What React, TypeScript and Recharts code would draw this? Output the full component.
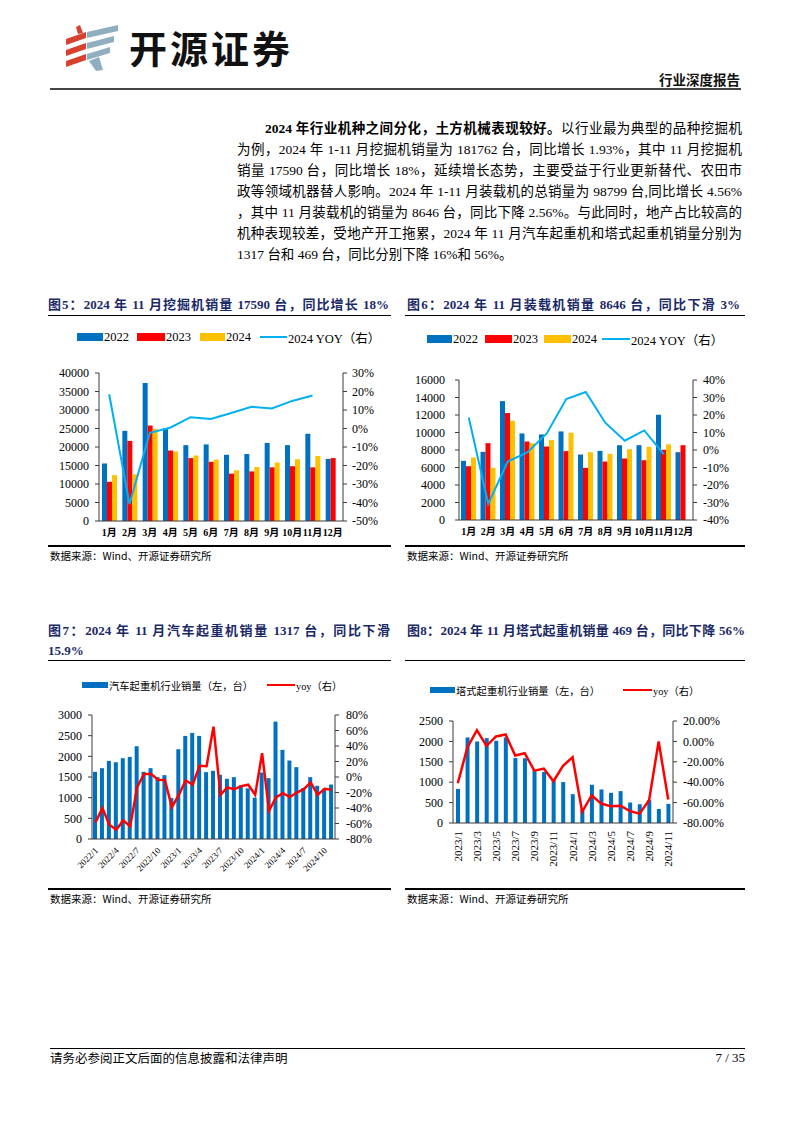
import React from 'react';
import { ComposedChart, Bar, Line, XAxis, YAxis } from 'recharts';

// ---------- DATA ----------
const months = ['1月', '2月', '3月', '4月', '5月', '6月', '7月', '8月', '9月', '10月', '11月', '12月'];

// 图5 挖掘机
const exc2022 = [15550, 24360, 37300, 25000, 20500, 20700, 17900, 18100, 21100, 20500, 23600, 16800];
const exc2023 = [10600, 21650, 25800, 19050, 17000, 16000, 12800, 13400, 14500, 14800, 14500, 17000];
const exc2024 = [12400, 12600, 24900, 18800, 17700, 16600, 13700, 14600, 15800, 16700, 17590, null];
const excYoy = [18.5, -40.8, -2.3, 0.4, 6.1, 5.2, 8.4, 11.7, 10.8, 14.9, 17.8, null];

// 图6 装载机
const ldr2022 = [6760, 7790, 13590, 9890, 9775, 10120, 7480, 7900, 8550, 8550, 12030, 7750];
const ldr2023 = [6150, 8780, 12220, 8970, 8400, 7870, 5960, 6680, 7030, 6830, 8020, 8550];
const ldr2024 = [7140, 5960, 11340, 8780, 9130, 9970, 7750, 7560, 8090, 8360, 8646, null];
const ldrYoy = [18.6, -30.8, -6.6, -1.4, 9.5, 29.1, 33.1, 15.6, 5.3, 11.2, -2.4, null];

// 图7 汽车起重机
const truckMonths = [
  '2022/1', '2022/2', '2022/3', '2022/4', '2022/5', '2022/6', '2022/7', '2022/8', '2022/9', '2022/10', '2022/11', '2022/12',
  '2023/1', '2023/2', '2023/3', '2023/4', '2023/5', '2023/6', '2023/7', '2023/8', '2023/9', '2023/10', '2023/11', '2023/12',
  '2024/1', '2024/2', '2024/3', '2024/4', '2024/5', '2024/6', '2024/7', '2024/8', '2024/9', '2024/10', '2024/11',
];
const truckSales = [
  1625, 1714, 1890, 1858, 1955, 1987, 2245, 1625, 1714, 1496, 1545, 990,
  2172, 2494, 2566, 2494, 1617, 1649, 1553, 1456, 1496, 1300, 1225, 1000,
  1609, 1472, 2840, 2156, 1899, 1738, 1235, 1496, 1287, 1215, 1317,
];
const truckYoy = [
  -58.6, -40, -61.6, -68, -56, -63.7, -13, 4, 4, -3.6, -4, -38.8,
  -23, -4.5, -10, 14.4, 14, 65, -23, -13.5, -15.7, -11.8, -10, -23,
  30.7, -43.5, -26.4, -20.8, -26, -20, -15.7, -7, -23, -15.2, -16.5,
];

// 图8 塔式起重机
const towerMonths = [
  '2023/1', '2023/2', '2023/3', '2023/4', '2023/5', '2023/6', '2023/7', '2023/8', '2023/9', '2023/10', '2023/11', '2023/12',
  '2024/1', '2024/2', '2024/3', '2024/4', '2024/5', '2024/6', '2024/7', '2024/8', '2024/9', '2024/10', '2024/11',
];
const towerSales = [835, 2097, 1998, 2081, 2015, 2097, 1595, 1587, 1299, 1250, 1053, 1003, 707, 330, 937, 822, 740, 781, 502, 460, 559, 345, 469];
const towerYoy = [-41, -6, 11, -4.3, 4.9, 6.8, -13.9, -11.6, -28.7, -26.7, -39, -24, -15.5, -69, -53, -61, -63.5, -63, -68.4, -70.8, -57.6, 0, -57];

// tick arrays
const excLeftTicks = [0, 5000, 10000, 15000, 20000, 25000, 30000, 35000, 40000];
const excRightTicks = [-50, -40, -30, -20, -10, 0, 10, 20, 30];
const ldrLeftTicks = [0, 2000, 4000, 6000, 8000, 10000, 12000, 14000, 16000];
const ldrRightTicks = [-40, -30, -20, -10, 0, 10, 20, 30, 40];
const truckLeftTicks = [0, 500, 1000, 1500, 2000, 2500, 3000];
const truckRightTicks = [-80, -60, -40, -20, 0, 20, 40, 60, 80];
const towerLeftTicks = [0, 500, 1000, 1500, 2000, 2500];
const towerRightTicks = [-80, -60, -40, -20, 0, 20];

// tables built from arrays
const excData = months.map((m, i) => ({ m, a: exc2022[i], b: exc2023[i], c: exc2024[i], y: excYoy[i] }));
const ldrData = months.map((m, i) => ({ m, a: ldr2022[i], b: ldr2023[i], c: ldr2024[i], y: ldrYoy[i] }));
const truckData = truckMonths.map((m, i) => ({ m, s: truckSales[i], y: truckYoy[i] }));
const towerData = towerMonths.map((m, i) => ({ m, s: towerSales[i], y: towerYoy[i] }));

// ---------- STYLE ----------
const SERIF = '"Liberation Serif", "Times New Roman", "Noto Sans CJK SC", serif';
const CJK = '"Noto Sans CJK SC", sans-serif';
const BLUE = '#0070C0';
const RED = '#FF0000';
const YELLOW = '#FFC000';
const SKY = '#00B0F0';
const NAVY = '#1B2A66';
const AXIS = '#3a3a3a';

const tickStyle = { fontSize: 12, fill: '#000', fontFamily: SERIF };
const monthTick = { fontSize: 10, fill: '#000', fontFamily: SERIF, fontWeight: 600 };

type LegendItem = { kind: 'bar' | 'line'; color: string; label: string; x: number; w: number };

function LegendRow({ items, top, fontSize, swatchH }: { items: LegendItem[]; top: number; fontSize: number; swatchH: number }) {
  return (
    <>
      {items.map((it, i) => (
        <div key={i} style={{ position: 'absolute', left: it.x, top, height: 16, display: 'flex', alignItems: 'center', fontFamily: SERIF, fontSize, color: '#000', whiteSpace: 'nowrap' }}>
          <span style={{ display: 'inline-block', width: it.w, height: it.kind === 'bar' ? swatchH : 2.5, background: it.color }} />
          <span style={{ marginLeft: 1 }}>{it.label}</span>
        </div>
      ))}
    </>
  );
}

const Rot45Tick = (props: any) => {
  const { x, y, payload } = props;
  return (
    <text x={x + 1} y={y + 2} transform={`rotate(-45 ${x + 1} ${y + 2})`} textAnchor="end" dominantBaseline="central" fontSize={9} fontFamily={SERIF} fill="#000">
      {payload.value}
    </text>
  );
};

const Rot90Tick = (props: any) => {
  const { x, y, payload } = props;
  return (
    <text x={x} y={y} transform={`rotate(-90 ${x} ${y})`} textAnchor="end" dominantBaseline="central" fontSize={11} fontFamily={SERIF} fill="#000">
      {payload.value}
    </text>
  );
};

const pct = (v: number) => `${v}%`;
const pct2 = (v: number) => `${v.toFixed(2)}%`;

function Abs({ left, top, children, style }: { left: number; top: number; children?: any; style?: any }) {
  return <div style={{ position: 'absolute', left, top, ...style }}>{children}</div>;
}

function HLine({ x1, x2, y, w = 1, color = '#000' }: { x1: number; x2: number; y: number; w?: number; color?: string }) {
  return <div style={{ position: 'absolute', left: x1, top: y, width: x2 - x1, height: w, background: color }} />;
}

const para: string[] = [
  '为例，2024 年 1-11 月挖掘机销量为 181762 台，同比增长 1.93%，其中 11 月挖掘机',
  '销量 17590 台，同比增长 18%，延续增长态势，主要受益于行业更新替代、农田市',
  '政等领域机器替人影响。2024 年 1-11 月装载机的总销量为 98799 台,同比增长 4.56%',
  '，其中 11 月装载机的销量为 8646 台，同比下降 2.56%。与此同时，地产占比较高的',
  '机种表现较差，受地产开工拖累，2024 年 11 月汽车起重机和塔式起重机销量分别为',
];

export default function App() {
  const justify = { textAlign: 'justify' as const, textAlignLast: 'justify' as const };
  return (
    <div style={{ position: 'absolute', left: 0, top: 0, width: 794, height: 1123, background: '#fff', overflow: 'hidden', fontFamily: SERIF }}>
      {/* Logo */}
      <svg style={{ position: 'absolute', left: 64, top: 24 }} width={58} height={48} viewBox="0 0 58 48">
        <polygon points="2,15 22,8 22,14 2,21" fill="#D9412F" />
        <polygon points="2,26 22,19 22,25 2,32" fill="#D9412F" />
        <polygon points="2,37 22,30 22,36 2,43" fill="#D9412F" />
        <polygon points="12,3 16,1 19,9 14,10" fill="#D9412F" />
        <polygon points="23,8 54,1 54,7 23,14" fill="#8FAFC0" />
        <polygon points="23,19 50,12 50,18 23,25" fill="#8FAFC0" />
        <polygon points="23,30 46,23 46,29 23,36" fill="#8FAFC0" />
        <polygon points="25,37 35,33 39,46 32,47" fill="#8FAFC0" />
      </svg>
      <Abs left={129} top={24} style={{ fontFamily: CJK, fontWeight: 700, fontSize: 38, lineHeight: '46px', color: '#111', letterSpacing: 3 }}>开源证券</Abs>
      <Abs left={640} top={70} style={{ width: 100, textAlign: 'right', fontFamily: CJK, fontWeight: 700, fontSize: 13.5, lineHeight: '18px', color: '#111' }}>行业深度报告</Abs>
      <HLine x1={50} x2={741} y={88} w={1.5} color="#444" />

      {/* Paragraph */}
      <div style={{ position: 'absolute', left: 237, top: 118, width: 505, fontFamily: '"Liberation Serif", "Noto Sans CJK SC", serif', fontSize: 13.5, lineHeight: '21px', color: '#000' }}>
        <div style={{ ...justify, paddingLeft: 28 }}>
          <b>2024 年行业机种之间分化，土方机械表现较好。</b>以行业最为典型的品种挖掘机
        </div>
        {para.map((l, i) => (
          <div key={i} style={justify}>{l}</div>
        ))}
        <div>1317 台和 469 台，同比分别下降 16%和 56%。</div>
      </div>

      {/* Titles */}
      <Abs left={48} top={296} style={{ width: 341, ...justify, fontWeight: 700, fontSize: 13, lineHeight: '18px', color: NAVY }}>图5：2024 年 11 月挖掘机销量 17590 台，同比增长 18%</Abs>
      <HLine x1={48} x2={391} y={315} w={1.2} />
      <Abs left={407} top={296} style={{ width: 333, ...justify, fontWeight: 700, fontSize: 13, lineHeight: '18px', color: NAVY }}>图6：2024 年 11 月装载机销量 8646 台，同比下滑 3%</Abs>
      <HLine x1={405} x2={745} y={315} w={1.2} />

      {/* Chart 5 */}
      <LegendRow top={329} fontSize={12.5} swatchH={8} items={[
        { kind: 'bar', color: BLUE, label: '2022', x: 77, w: 26 },
        { kind: 'bar', color: RED, label: '2023', x: 137, w: 28 },
        { kind: 'bar', color: YELLOW, label: '2024', x: 200, w: 25 },
        { kind: 'line', color: SKY, label: '2024 YOY（右）', x: 260, w: 27 },
      ]} />
      <Abs left={50} top={325}>
        <ComposedChart width={340} height={220} data={excData} margin={{ top: 48, right: 0, bottom: 0, left: 0 }} barGap={0} barSize={5}>
          <XAxis dataKey="m" height={24} tickLine={false} axisLine={{ stroke: AXIS }} interval={0} tick={monthTick} />
          <YAxis yAxisId="l" width={49} domain={[0, 40000]} ticks={excLeftTicks} interval={0} tickSize={4} tickMargin={6} axisLine={{ stroke: AXIS }} tickLine={{ stroke: AXIS }} tick={tickStyle} />
          <YAxis yAxisId="r" orientation="right" width={47} domain={[-50, 30]} ticks={excRightTicks} interval={0} tickSize={4} tickMargin={5} tickFormatter={pct} axisLine={{ stroke: AXIS }} tickLine={{ stroke: AXIS }} tick={tickStyle} />
          <Bar yAxisId="l" dataKey="a" fill={BLUE} isAnimationActive={false} />
          <Bar yAxisId="l" dataKey="b" fill={RED} isAnimationActive={false} />
          <Bar yAxisId="l" dataKey="c" fill={YELLOW} isAnimationActive={false} />
          <Line yAxisId="r" dataKey="y" stroke={SKY} strokeWidth={2} dot={false} isAnimationActive={false} />
        </ComposedChart>
      </Abs>
      <HLine x1={48} x2={391} y={545} w={1.5} />
      <Abs left={50} top={549} style={{ fontFamily: CJK, fontSize: 10.5, lineHeight: '14px' }}>数据来源：Wind、开源证券研究所</Abs>

      {/* Chart 6 */}
      <LegendRow top={331} fontSize={12.5} swatchH={8} items={[
        { kind: 'bar', color: BLUE, label: '2022', x: 427, w: 25 },
        { kind: 'bar', color: RED, label: '2023', x: 485, w: 27 },
        { kind: 'bar', color: YELLOW, label: '2024', x: 544, w: 27 },
        { kind: 'line', color: SKY, label: '2024 YOY（右）', x: 602, w: 28 },
      ]} />
      <Abs left={405} top={325}>
        <ComposedChart width={337} height={219} data={ldrData} margin={{ top: 55, right: 0, bottom: 0, left: 0 }} barGap={0} barSize={5}>
          <XAxis dataKey="m" height={24} tickLine={false} axisLine={{ stroke: AXIS }} interval={0} tick={monthTick} />
          <YAxis yAxisId="l" width={54} domain={[0, 16000]} ticks={ldrLeftTicks} interval={0} tickSize={4} tickMargin={10} axisLine={{ stroke: AXIS }} tickLine={{ stroke: AXIS }} tick={tickStyle} />
          <YAxis yAxisId="r" orientation="right" width={49} domain={[-40, 40]} ticks={ldrRightTicks} interval={0} tickSize={4} tickMargin={6} tickFormatter={pct} axisLine={{ stroke: AXIS }} tickLine={{ stroke: AXIS }} tick={tickStyle} />
          <Bar yAxisId="l" dataKey="a" fill={BLUE} isAnimationActive={false} />
          <Bar yAxisId="l" dataKey="b" fill={RED} isAnimationActive={false} />
          <Bar yAxisId="l" dataKey="c" fill={YELLOW} isAnimationActive={false} />
          <Line yAxisId="r" dataKey="y" stroke={SKY} strokeWidth={2} dot={false} isAnimationActive={false} />
        </ComposedChart>
      </Abs>
      <HLine x1={405} x2={745} y={545} w={1.5} />
      <Abs left={407} top={549} style={{ fontFamily: CJK, fontSize: 10.5, lineHeight: '14px' }}>数据来源：Wind、开源证券研究所</Abs>

      {/* Titles row 2 */}
      <Abs left={48} top={621} style={{ width: 342, fontWeight: 700, fontSize: 13, lineHeight: '20px', color: NAVY }}>
        <div style={justify}>图7：2024 年 11 月汽车起重机销量 1317 台，同比下滑</div>
        <div>15.9%</div>
      </Abs>
      <HLine x1={48} x2={391} y={660} w={1.2} />
      <Abs left={407} top={621} style={{ width: 338, ...justify, fontWeight: 700, fontSize: 13, lineHeight: '20px', color: NAVY }}>图8：2024 年 11 月塔式起重机销量 469 台，同比下降 56%</Abs>
      <HLine x1={405} x2={745} y={660} w={1.2} />

      {/* Chart 7 */}
      <LegendRow top={677} fontSize={10.3} swatchH={6} items={[
        { kind: 'bar', color: BLUE, label: '汽车起重机行业销量（左，台）', x: 82, w: 26 },
        { kind: 'line', color: RED, label: 'yoy（右）', x: 267, w: 28 },
      ]} />
      <Abs left={50} top={675}>
        <ComposedChart width={340} height={210} data={truckData} margin={{ top: 40, right: 0, bottom: 0, left: 0 }} barSize={4}>
          <XAxis dataKey="m" height={46} tickLine={false} axisLine={{ stroke: AXIS }} interval={2} tick={<Rot45Tick />} />
          <YAxis yAxisId="l" width={42} domain={[0, 3000]} ticks={truckLeftTicks} interval={0} tickSize={4} tickMargin={6} axisLine={{ stroke: AXIS }} tickLine={{ stroke: AXIS }} tick={tickStyle} />
          <YAxis yAxisId="r" orientation="right" width={55} domain={[-80, 80]} ticks={truckRightTicks} interval={0} tickSize={4} tickMargin={7} tickFormatter={pct} axisLine={{ stroke: AXIS }} tickLine={{ stroke: AXIS }} tick={tickStyle} />
          <Bar yAxisId="l" dataKey="s" fill={BLUE} isAnimationActive={false} />
          <Line yAxisId="r" dataKey="y" stroke={RED} strokeWidth={2.5} dot={false} isAnimationActive={false} />
        </ComposedChart>
      </Abs>
      <HLine x1={48} x2={391} y={888} w={1.5} />
      <Abs left={50} top={892} style={{ fontFamily: CJK, fontSize: 10.5, lineHeight: '14px' }}>数据来源：Wind、开源证券研究所</Abs>

      {/* Chart 8 */}
      <LegendRow top={682} fontSize={10.3} swatchH={6} items={[
        { kind: 'bar', color: BLUE, label: '塔式起重机行业销量（左，台）', x: 430, w: 25 },
        { kind: 'line', color: RED, label: 'yoy（右）', x: 623, w: 29 },
      ]} />
      <Abs left={405} top={675}>
        <ComposedChart width={337} height={195} data={towerData} margin={{ top: 46, right: 0, bottom: 0, left: 0 }} barSize={4}>
          <XAxis dataKey="m" height={47} tickLine={false} axisLine={{ stroke: AXIS }} interval={1} tick={<Rot90Tick />} />
          <YAxis yAxisId="l" width={48} domain={[0, 2500]} ticks={towerLeftTicks} interval={0} tickSize={4} tickMargin={6} axisLine={{ stroke: AXIS }} tickLine={{ stroke: AXIS }} tick={tickStyle} />
          <YAxis yAxisId="r" orientation="right" width={69} domain={[-80, 20]} ticks={towerRightTicks} interval={0} tickSize={4} tickMargin={6} tickFormatter={pct2} axisLine={{ stroke: AXIS }} tickLine={{ stroke: AXIS }} tick={tickStyle} />
          <Bar yAxisId="l" dataKey="s" fill={BLUE} isAnimationActive={false} />
          <Line yAxisId="r" dataKey="y" stroke={RED} strokeWidth={2.5} dot={false} isAnimationActive={false} />
        </ComposedChart>
      </Abs>
      <HLine x1={405} x2={745} y={888} w={1.5} />
      <Abs left={407} top={892} style={{ fontFamily: CJK, fontSize: 10.5, lineHeight: '14px' }}>数据来源：Wind、开源证券研究所</Abs>

      {/* Footer */}
      <HLine x1={50} x2={745} y={1048} w={1.2} />
      <Abs left={50} top={1050} style={{ fontFamily: CJK, fontSize: 12.5, lineHeight: '16px' }}>请务必参阅正文后面的信息披露和法律声明</Abs>
      <Abs left={645} top={1050} style={{ width: 100, textAlign: 'right', fontFamily: SERIF, fontSize: 13, lineHeight: '16px' }}>7 / 35</Abs>
    </div>
  );
}
